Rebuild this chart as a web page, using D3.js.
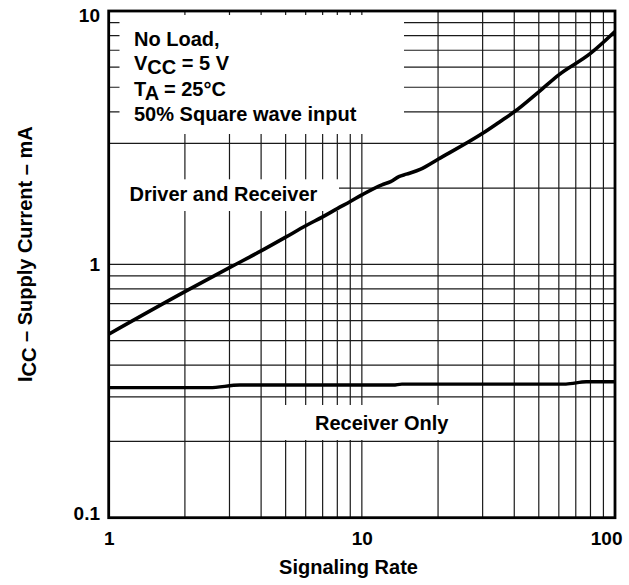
<!DOCTYPE html>
<html>
<head>
<meta charset="utf-8">
<script src="https://cdn.jsdelivr.net/npm/d3@7"></script>
<style>
  body { margin: 0; background: #fff; }
  text { font-family: "Liberation Sans", Arial, sans-serif; font-weight: bold; fill: #000; }
</style>
</head>
<body>
<svg id="chart" width="629" height="585"></svg>
<script>
// Axis ticks
const xTickValues = [1, 10, 100];
const xTickLabels = ["1", "10", "100"];
const yTickValues = [0.1, 1, 10];
const yTickLabels = ["0.1", "1", "10"];

// Driver and Receiver supply current (mA) vs signaling rate
const driverRate    = [1, 2, 3, 4, 5, 6, 7, 8, 9, 10, 12, 13, 14, 15, 17, 20, 30, 35, 40, 50, 60, 80, 100];
const driverCurrent = [0.53, 0.78, 0.97, 1.13, 1.28, 1.42, 1.54, 1.66, 1.77, 1.88, 2.06, 2.12, 2.22, 2.27, 2.37, 2.6, 3.29, 3.65, 4.0, 4.8, 5.6, 6.8, 8.3];

// Receiver Only supply current (mA)
const receiverRate    = [1, 2.5, 3.3, 13.3, 14.4, 64, 77, 100];
const receiverCurrent = [0.326, 0.326, 0.334, 0.334, 0.337, 0.337, 0.344, 0.344];

// Condition notes
const noteLines = ["No Load,", "VCC = 5 V", "TA = 25°C", "50% Square wave input"];

const svg = d3.select("#chart");
const plotLeft = 108.7, plotRight = 615, plotTop = 11, plotBottom = 517.7;

const x = d3.scaleLog().domain([1, 100]).range([plotLeft, plotRight]);
const y = d3.scaleLog().domain([0.1, 10]).range([plotBottom, plotTop]);

// Grid
const grid = svg.append("g").attr("stroke", "#1a1a1a").attr("stroke-width", 1.2);
grid.selectAll("line.v").data(x.ticks().filter(d => d > 1 && d < 100))
  .join("line").attr("class", "v")
  .attr("x1", d => x(d)).attr("x2", d => x(d))
  .attr("y1", plotTop).attr("y2", plotBottom);
grid.selectAll("line.h").data(y.ticks().filter(d => d > 0.1 && d < 10))
  .join("line").attr("class", "h")
  .attr("x1", plotLeft).attr("x2", plotRight)
  .attr("y1", d => y(d)).attr("y2", d => y(d));

// Label backgrounds masking the grid
const boxes = [
  [119.5, 15, 404, 134],
  [110, 179.3, 339, 211],
  [275, 405, 465, 440]
];
svg.append("g").selectAll("rect").data(boxes).join("rect")
  .attr("x", d => d[0]).attr("y", d => d[1])
  .attr("width", d => d[2] - d[0]).attr("height", d => d[3] - d[1])
  .attr("fill", "#fff");

// Curves
const line = d3.line().curve(d3.curveMonotoneX).x(d => x(d[0])).y(d => y(d[1]));
svg.append("path")
  .datum(d3.zip(driverRate, driverCurrent))
  .attr("d", line).attr("fill", "none").attr("stroke", "#000").attr("stroke-width", 3.6);
svg.append("path")
  .datum(d3.zip(receiverRate, receiverCurrent))
  .attr("d", line).attr("fill", "none").attr("stroke", "#000").attr("stroke-width", 3.3);

// Frame
svg.append("rect")
  .attr("x", plotLeft).attr("y", plotTop)
  .attr("width", plotRight - plotLeft).attr("height", plotBottom - plotTop)
  .attr("fill", "none").attr("stroke", "#000").attr("stroke-width", 2.8);

// Axes labels
const xAxis = svg.append("g").attr("transform", `translate(0,${plotBottom})`)
  .call(d3.axisBottom(x).tickValues(xTickValues).tickSize(0).tickPadding(0)
    .tickFormat((d, i) => xTickLabels[i]));
xAxis.select(".domain").remove();
xAxis.selectAll("text")
  .attr("font-size", 19).attr("dy", null).attr("y", 27.5)
  .attr("text-anchor", (d, i) => i === xTickValues.length - 1 ? "end" : "middle")
  .attr("dx", (d, i) => i === xTickValues.length - 1 ? 7 : 0);

const yAxis = svg.append("g").attr("transform", `translate(${plotLeft},0)`)
  .call(d3.axisLeft(y).tickValues(yTickValues).tickSize(0).tickPadding(8.7)
    .tickFormat((d, i) => yTickLabels[i]));
yAxis.select(".domain").remove();
yAxis.selectAll("text")
  .attr("font-size", 19)
  .attr("dy", d => d === 0.1 ? "1.3px" : d === 10 ? "10.7px" : "6px");

svg.append("text")
  .attr("x", 348.5).attr("y", 573.5).attr("text-anchor", "middle")
  .attr("font-size", 20).text("Signaling Rate");

const yTitle = svg.append("text")
  .attr("transform", "translate(32,382) rotate(-90)")
  .attr("font-size", 20);
yTitle.append("tspan").text("I");
yTitle.append("tspan").attr("dy", 4).text("CC");
yTitle.append("tspan").attr("dy", -4).text(" \u2013 Supply Current \u2013 mA");

// Condition notes
const notes = svg.append("g").attr("font-size", 20);
const noteY = [45.5, 70, 95.5, 120.5];
function subscripted(t, main, sub, rest) {
  t.append("tspan").text(main);
  t.append("tspan").attr("dy", 4).text(sub);
  t.append("tspan").attr("dy", -4).text(rest);
}
notes.append("text").attr("x", 134).attr("y", noteY[0]).text(noteLines[0]);
subscripted(notes.append("text").attr("x", 134).attr("y", noteY[1]), "V", "CC", " = 5 V");
subscripted(notes.append("text").attr("x", 134).attr("y", noteY[2]), "T", "A", " = 25°C");
notes.append("text").attr("x", 134).attr("y", noteY[3]).text(noteLines[3]);

// Curve labels
svg.append("text").attr("x", 129.5).attr("y", 200.7).attr("font-size", 20).text("Driver and Receiver");
svg.append("text").attr("x", 315).attr("y", 430).attr("font-size", 20).text("Receiver Only");
</script>
</body>
</html>
